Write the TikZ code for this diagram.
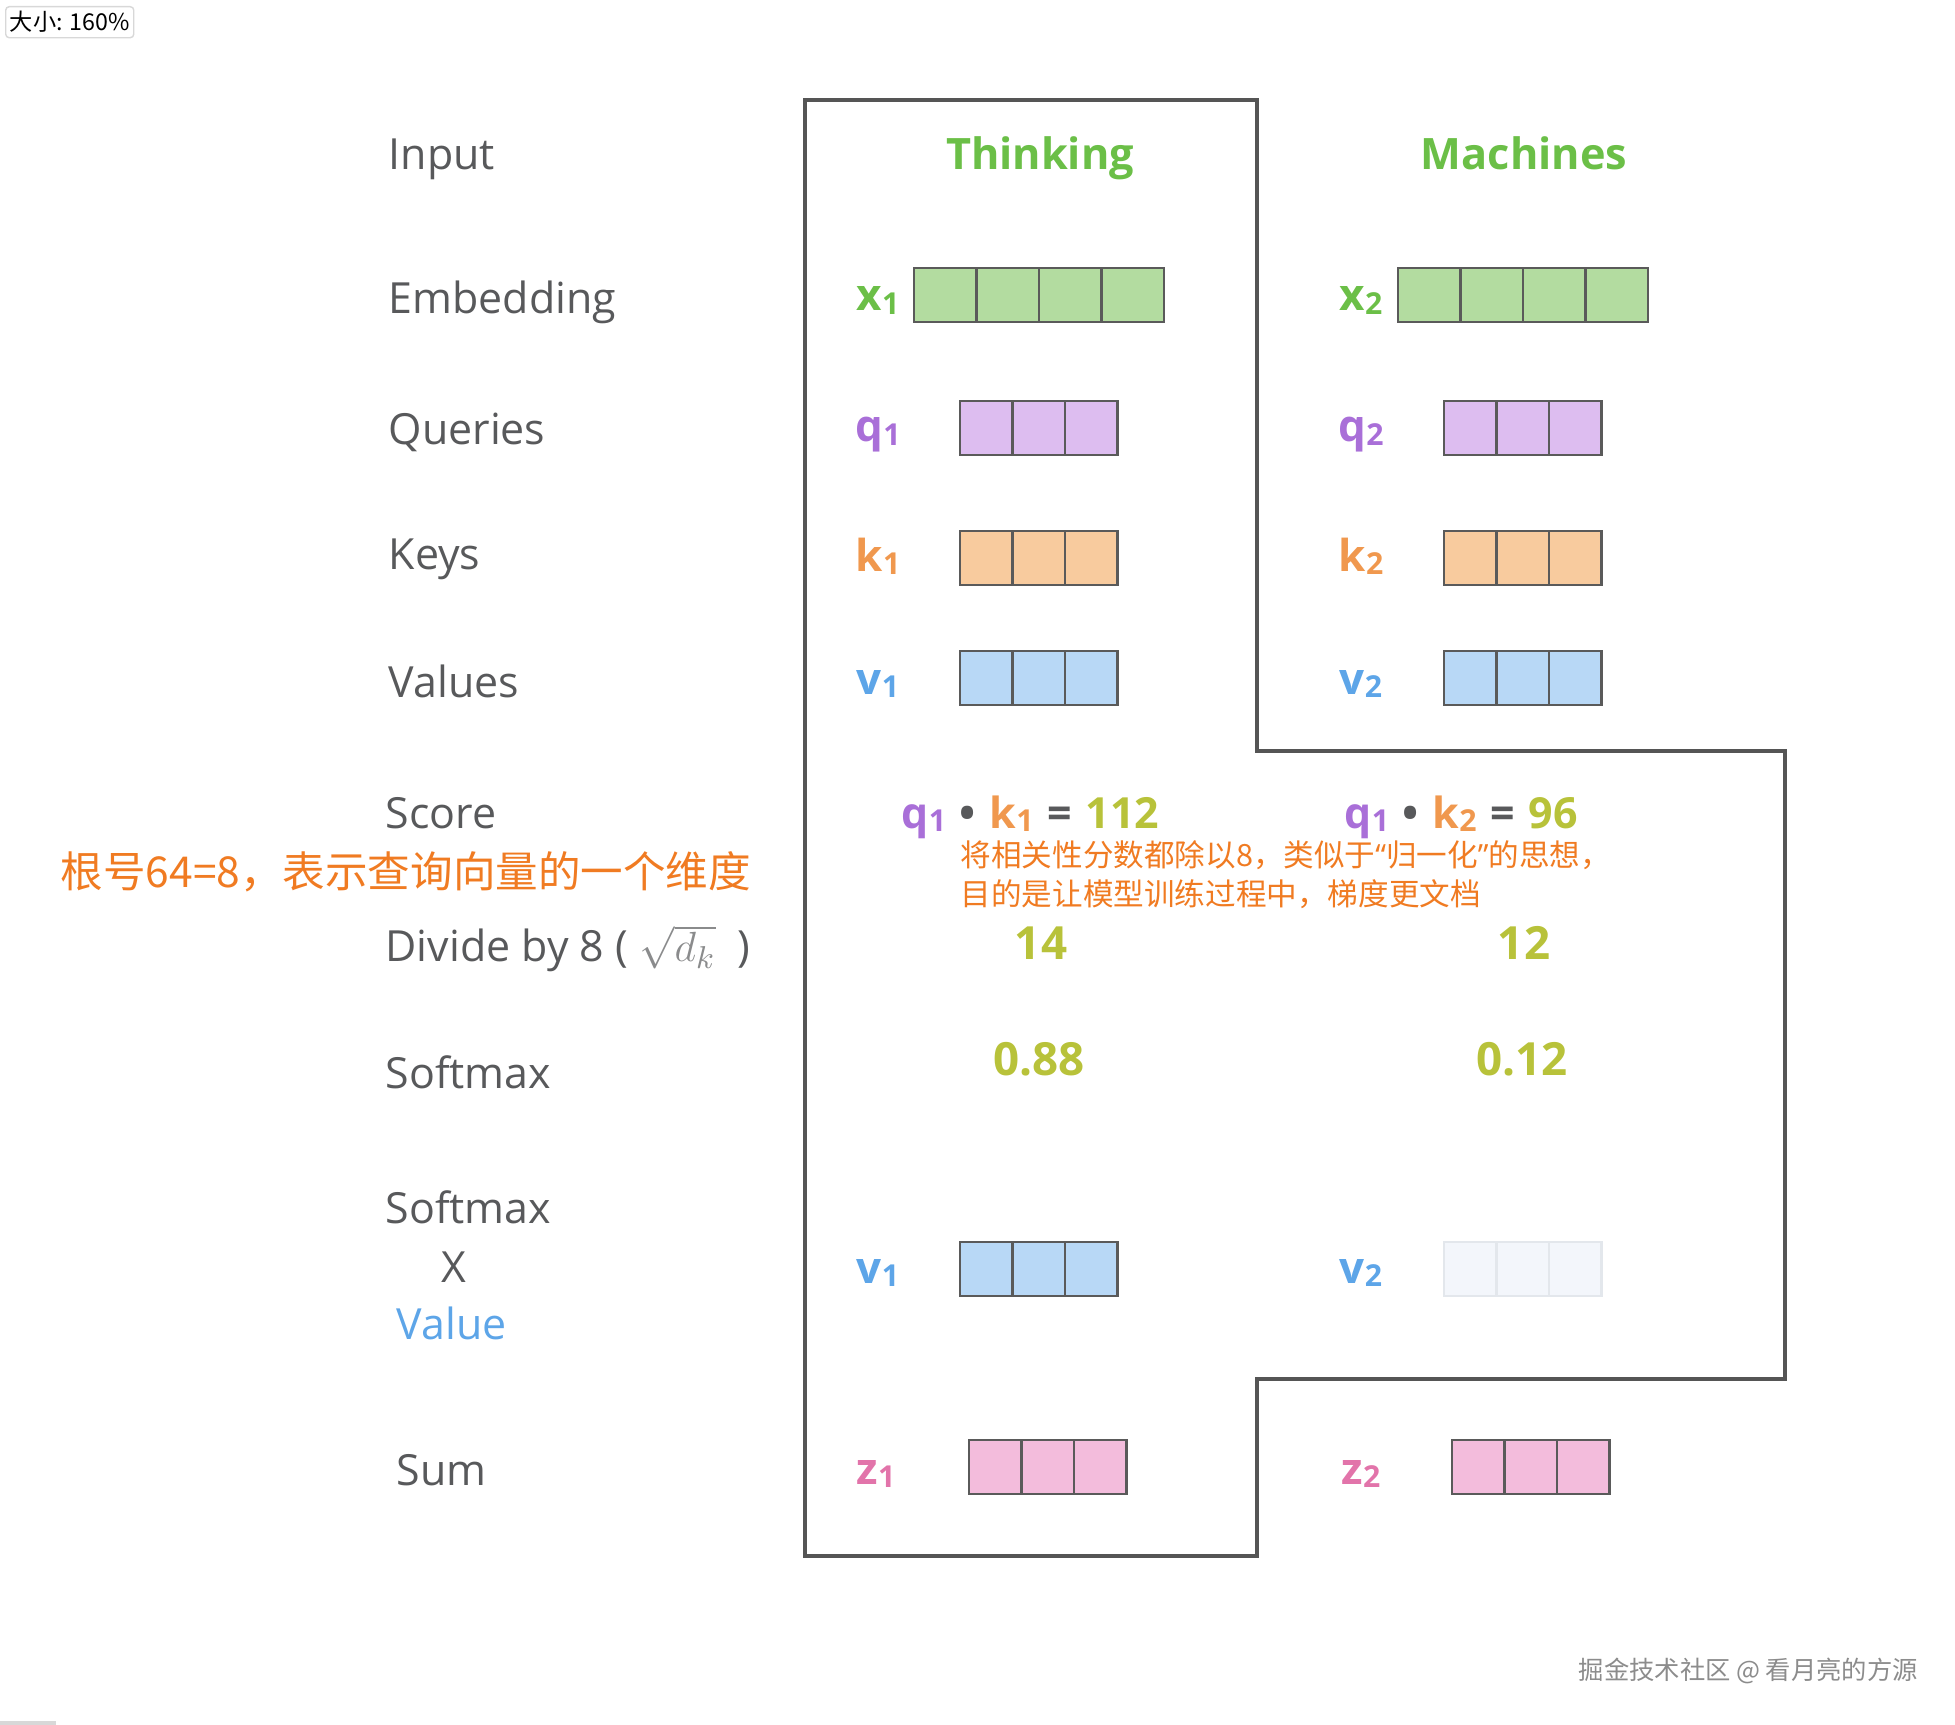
\documentclass[tikz,border=0pt]{standalone}
\usepackage{fontspec}
\setmainfont{Open Sans}
\newfontfamily\cjk{Noto Sans CJK SC}
\definecolor{lab}{HTML}{58595B}
\definecolor{edge}{HTML}{555555}
\definecolor{cellline}{HTML}{5A5A5A}
\definecolor{wgreen}{HTML}{6BBF47}
\definecolor{xfill}{HTML}{B3DCA0}
\definecolor{qpur}{HTML}{A96FD8}
\definecolor{qfill}{HTML}{DDBDF0}
\definecolor{korange}{HTML}{F0984E}
\definecolor{kfill}{HTML}{F8CB9E}
\definecolor{vblue}{HTML}{5DA5E8}
\definecolor{vfill}{HTML}{B8D8F6}
\definecolor{zpink}{HTML}{E274AA}
\definecolor{zfill}{HTML}{F3BCDC}
\definecolor{fadefill}{HTML}{F3F6FB}
\definecolor{fadeline}{HTML}{E3E7EC}
\definecolor{numc}{HTML}{B8C23A}
\definecolor{notec}{HTML}{F07B22}
\definecolor{markc}{HTML}{8C8C8C}
\definecolor{tagline}{HTML}{D8D8D8}
\newcommand\vsub[1]{\raisebox{-0.15ex}{\fontsize{8.6}{9}\selectfont#1}}
\newcommand\gap{\hspace{0.32em}}

\begin{document}
\begin{tikzpicture}[x=0.01cm,y=-0.01cm,
        lbl/.style={anchor=base west,text=lab,inner sep=0pt,font=\fontsize{12.2}{14}\selectfont},
        word/.style={anchor=base,text=wgreen,inner sep=0pt,font=\bfseries\fontsize{12.3}{14}\selectfont},
        vec/.style={anchor=base,text=#1,inner sep=0pt,font=\bfseries\fontsize{12.5}{14}\selectfont},
        num/.style={anchor=base,text=numc,inner sep=0pt,font=\bfseries\fontsize{13}{15}\selectfont},
        note/.style={anchor=base west,text=notec,inner sep=0pt},
        cell/.style={draw=cellline,line width=0.7pt},
        outline/.style={draw=edge,line width=1.1pt}]
        \useasboundingbox(0,0)rectangle(1955,1725);
        \draw[outline](805,100)--(1257,100)--(1257,751)--(1785,751)--(1785,1379)--(1257,1379)--(1257,1556)--(805,1556)--cycle;

        \node[lbl](input)at(388,170){Input};
        \node[lbl](embed)at(388,314){Embedding};
        \node[lbl](query)at(388,445){Queries};
        \node[lbl](key)at(388,570){Keys};
        \node[lbl](value)at(388,697){Values};
        \node[lbl](score)at(385,828){Score};
        \node[lbl](divide)at(385,961){Divide by 8 ( {\color{lab!70}$\sqrt{d_k}$}\ \ )};
        \node[lbl](soft)at(385,1088){Softmax};
        \node[lbl](softb)at(385,1223){Softmax};
        \node[lbl,anchor=base](times)at(454,1282){X};
        \node[lbl,text=vblue](valb)at(396,1339){Value};
        \node[lbl](sum)at(396,1485){Sum};

        \node[word](think)at(1040,170){Thinking};
        \node[word](mach)at(1524,170){Machines};

        \foreach \xa/\ya/\n/\w/\c in {914/268/4/62.5/xfill,1398/268/4/62.5/xfill,
                960/401/3/52.5/qfill,1444/401/3/52.5/qfill,960/531/3/52.5/kfill,1444/531/3/52.5/kfill,
                960/651/3/52.5/vfill,1444/651/3/52.5/vfill,960/1242/3/52.5/vfill,
                969/1440/3/52.5/zfill,1452/1440/3/52.5/zfill}
            \foreach \i in {1,...,\n}
                \draw[cell,fill=\c]({\xa+(\i-1)*\w},\ya)rectangle++(\w,54);
        \foreach \i in {1,2,3}
            \draw[draw=fadeline,line width=0.7pt,fill=fadefill]({1444+(\i-1)*52.5},1242)rectangle++(52.5,54);

        \node[vec=wgreen](xa)at(878,311){x\vsub{1}};
        \node[vec=wgreen](xb)at(1361,311){x\vsub{2}};
        \node[vec=qpur](qa)at(878,442){q\vsub{1}};
        \node[vec=qpur](qb)at(1361,442){q\vsub{2}};
        \node[vec=korange](ka)at(878,571){k\vsub{1}};
        \node[vec=korange](kb)at(1361,571){k\vsub{2}};
        \node[vec=vblue](va)at(878,694){v\vsub{1}};
        \node[vec=vblue](vb)at(1361,694){v\vsub{2}};
        \node[vec=vblue](vc)at(878,1283){v\vsub{1}};
        \node[vec=vblue](vd)at(1361,1283){v\vsub{2}};
        \node[vec=zpink](za)at(876,1484){z\vsub{1}};
        \node[vec=zpink](zb)at(1361,1484){z\vsub{2}};

        \node[num,anchor=base west,font=\bfseries\fontsize{12.2}{15}\selectfont](sa)at(901,828){\textcolor{qpur}{q\vsub{1}}\gap\textcolor{lab}{•}\gap\textcolor{korange}{k\vsub{1}}\gap\textcolor{lab}{=}\gap 112};
        \node[num,anchor=base west,font=\bfseries\fontsize{12.2}{15}\selectfont](sb)at(1344,828){\textcolor{qpur}{q\vsub{1}}\gap\textcolor{lab}{•}\gap\textcolor{korange}{k\vsub{2}}\gap\textcolor{lab}{=}\gap 96};
        \node[num](da)at(1041,959){14};
        \node[num](db)at(1524,959){12};
        \node[num](pa)at(1039,1075){0.88};
        \node[num](pb)at(1522,1075){0.12};

        \node[note,font=\cjk\fontsize{12.1}{14}\selectfont](root)at(60,887){根号64=8，表示查询向量的一个维度};
        \node[note,font=\cjk\fontsize{8.7}{11}\selectfont](norma)at(960,866){将相关性分数都除以8，类似于{\fontspec{Open Sans}“}归一化{\fontspec{Open Sans}”}的思想，};
        \node[note,font=\cjk\fontsize{8.7}{11}\selectfont](normb)at(960,905){目的是让模型训练过程中，梯度更文档};

        \node[anchor=base west,text=markc,inner sep=0pt,font=\cjk\fontsize{7.2}{9}\selectfont](mark)at(1578,1679){掘金技术社区 @ 看月亮的方源};
        \node[draw=tagline,fill=white,rounded corners=1pt,anchor=north west,inner sep=0pt,minimum width=1.28cm,minimum height=0.31cm,font=\cjk\fontsize{6.6}{7}\selectfont](zoomtag)at(5,6){大小: 160\%};
        \coordinate(lineend)at(56,1723);
        \draw[tagline,line width=1pt](0,1723)--(lineend);
    \end{tikzpicture}
\end{document}
